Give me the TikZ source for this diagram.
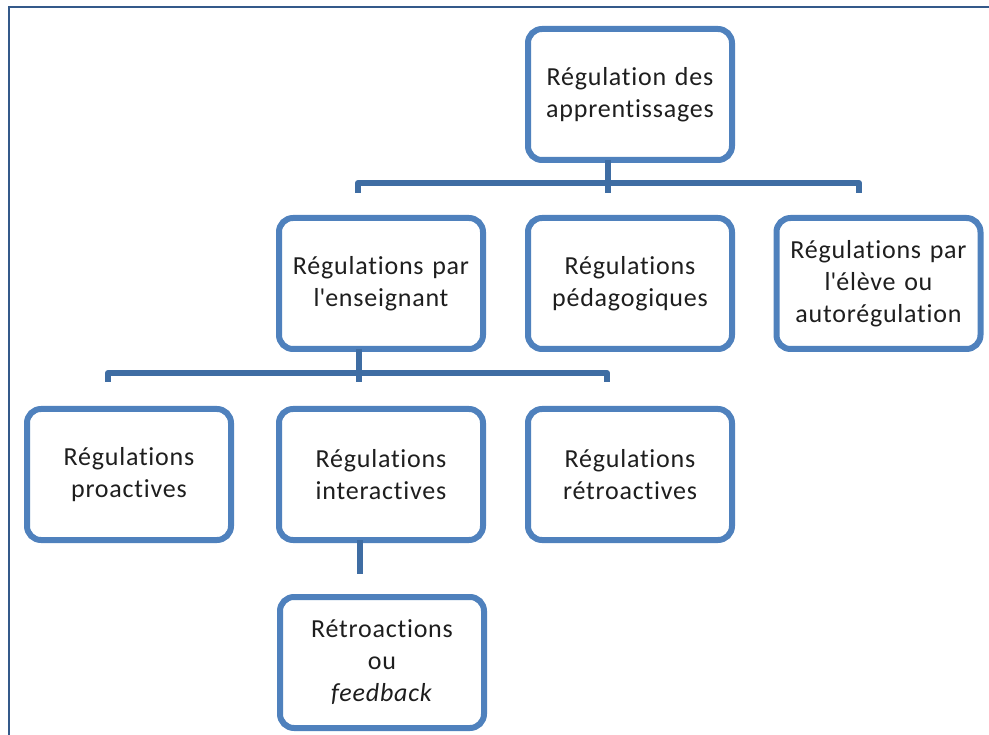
\documentclass[tikz,border=0pt]{standalone}
\usepackage{fontspec}
\setmainfont{Carlito}[Ligatures={ResetAll,NoCommon},LetterSpace=3,WordSpace=0.8]
\usetikzlibrary{calc}
\definecolor{boxblue}{HTML}{4F81BD}
\definecolor{linkblue}{HTML}{3F6DA3}
\definecolor{frameblue}{HTML}{34598A}
\definecolor{txt}{HTML}{1E1E1E}
% straight apostrophe glyph, set without any text mapping
\newcommand{\sq}{\XeTeXglyph\XeTeXcharglyph"27\relax}
\begin{document}
\begin{tikzpicture}[x=1pt,y=-1pt,
  card/.style={draw=boxblue, line width=6pt, rounded corners=14pt, fill=white,
    minimum width=204pt, minimum height=131pt, text width=200pt, align=center,
    text=txt, font=\fontsize{26}{32}\selectfont, inner sep=0pt},
  link/.style={draw=linkblue, line width=6pt, line join=round}]
\useasboundingbox (0,0) rectangle (989,735);
\begin{scope}
  \clip (0,0) rectangle (989,735);
  \draw[frameblue, line width=2.2pt] (9,7) rectangle (1010,760);
\end{scope}

% nodes
\node[card] (root)  at (630,94.5)  {Régulation des\\apprentissages};
\node[card] (ens)   at (381,283.5) {Régulations par\\l\sq enseignant};
\node[card] (ped)   at (630,283.5) {Régulations\\pédagogiques};
\node[card] (eleve) at (878.5,283.5) {Régulations par\\l\sq élève ou\\autorégulation};
\node[card] (pro)   at (129,474.5) {Régulations\\proactives};
\node[card] (inter) at (381,474.5) {Régulations\\interactives};
\node[card] (retro) at (630,474.5) {Régulations\\rétroactives};
\node[card] (fb)    at (382,662.5) {Rétroactions\\ou\\\textit{feedback}};

% first level branching
\coordinate (ta) at (358,193);
\coordinate (tb) at (859,193);
\draw[link] ($(root.south)+(-22,-3)$) -- ($(root.south)+(-22,30)$);
\draw[link] (ta) -- (358,183) -- (859,183) -- (tb);

% second level branching
\coordinate (sa) at (108,382);
\coordinate (sb) at (607,382);
\draw[link] ($(ens.south)+(-22,-3)$) -- ($(ens.south)+(-22,30)$);
\draw[link] (sa) -- (108,373) -- (607,373) -- (sb);

% link to feedback
\draw[link] ($(inter.south)+(-21,-3)$) -- ($(inter.south)+(-21,31)$);
\end{tikzpicture}
\end{document}
